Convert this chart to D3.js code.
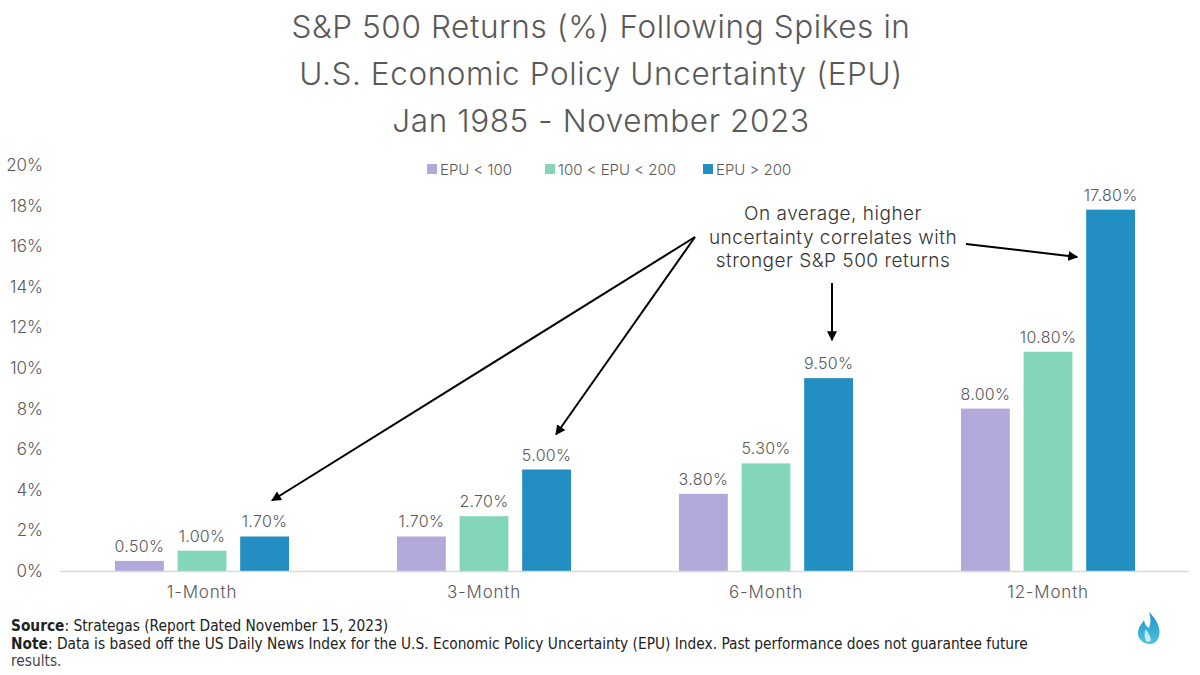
<!DOCTYPE html>
<html><head><meta charset="utf-8">
<script src="https://cdn.jsdelivr.net/npm/d3@7"></script>
<style>
html,body{margin:0;padding:0;background:#fff;}
svg{display:block;}
</style></head>
<body>
<svg id="chart" width="1200" height="675"></svg>
<script>
const titleLines = ["S&P 500 Returns (%) Following Spikes in", "U.S. Economic Policy Uncertainty (EPU)", "Jan 1985 - November 2023"];
const categories = ["1-Month", "3-Month", "6-Month", "12-Month"];
const seriesNames = ["EPU < 100", "100 < EPU < 200", "EPU > 200"];
const seriesColors = ["#b3a8da", "#84d6ba", "#228ec2"];
const epuLow = [0.5, 1.7, 3.8, 8.0];
const epuMid = [1.0, 2.7, 5.3, 10.8];
const epuHigh = [1.7, 5.0, 9.5, 17.8];
const yTicks = [0, 2, 4, 6, 8, 10, 12, 14, 16, 18, 20];
const annotationLines = ["On average, higher", "uncertainty correlates with", "stronger S&P 500 returns"];
const sourceText = "Source";
const sourceRest = ": Strategas (Report Dated November 15, 2023)";
const noteText = "Note";
const noteRest = ": Data is based off the US Daily News Index for the U.S. Economic Policy Uncertainty (EPU) Index. Past performance does not guarantee future";
const noteRest2 = "results.";

const series = [epuLow, epuMid, epuHigh];
const svg = d3.select("#chart");
const font = "Inter, 'Open Sans', sans-serif";
const grey = "#595959";

const y = d3.scaleLinear().domain([0, 20]).range([571, 165]);
const x0 = d3.scaleBand().domain(categories).range([61, 1189]);
const x1 = d3.scaleBand().domain(d3.range(3)).range([-87, 87]).paddingInner(0.22).paddingOuter(0);

// Title
svg.append("g").selectAll("text").data(titleLines).join("text")
  .attr("x", 601).attr("y", (d, i) => 38 + i * 47)
  .attr("text-anchor", "middle")
  .attr("font-family", font).attr("font-weight", 300)
  .attr("font-size", 31.5).attr("letter-spacing", 0.6).attr("fill", grey)
  .text(d => d);

// Y axis labels
svg.append("g").selectAll("text").data(yTicks).join("text")
  .attr("x", 43).attr("y", d => y(d) + 6)
  .attr("text-anchor", "end")
  .attr("font-family", font).attr("font-weight", 300)
  .attr("font-size", 17).attr("fill", grey)
  .text(d => d + "%");

// Legend
const legendX = [427, 545, 703];
const lg = svg.append("g").selectAll("g").data(seriesNames).join("g")
  .attr("transform", (d, i) => `translate(${legendX[i]},169)`);
lg.append("rect").attr("x", 0).attr("y", -5).attr("width", 10).attr("height", 10)
  .attr("fill", (d, i) => seriesColors[i]);
lg.append("text").attr("x", 13).attr("y", 5.5)
  .attr("font-family", font).attr("font-weight", 300)
  .attr("font-size", 15).attr("fill", grey).text(d => d);

// Bars
const groups = svg.append("g").selectAll("g").data(categories).join("g")
  .attr("transform", d => `translate(${x0(d) + x0.bandwidth() / 2},0)`);
groups.each(function (cat, ci) {
  const g = d3.select(this);
  const vals = series.map((s, si) => ({ si, v: s[ci] }));
  g.selectAll("rect").data(vals).join("rect")
    .attr("x", d => x1(d.si)).attr("width", x1.bandwidth())
    .attr("y", d => y(d.v)).attr("height", d => y(0) - y(d.v))
    .attr("fill", d => seriesColors[d.si]);
  g.selectAll("text.lbl").data(vals).join("text").attr("class", "lbl")
    .attr("x", d => x1(d.si) + x1.bandwidth() / 2).attr("y", d => y(d.v) - 9)
    .attr("text-anchor", "middle")
    .attr("font-family", font).attr("font-weight", 300)
    .attr("font-size", 16).attr("letter-spacing", 0.3).attr("fill", grey)
    .text(d => d.v.toFixed(2) + "%");
});

// X axis line
svg.append("line").attr("x1", 60).attr("x2", 1189).attr("y1", y(0) + 0.5).attr("y2", y(0) + 0.5)
  .attr("stroke", "#d9d9d9").attr("stroke-width", 1.5);

// X labels
svg.append("g").selectAll("text").data(categories).join("text")
  .attr("x", d => x0(d) + x0.bandwidth() / 2).attr("y", 598)
  .attr("text-anchor", "middle")
  .attr("font-family", font).attr("font-weight", 300)
  .attr("font-size", 17).attr("letter-spacing", 0.8).attr("fill", grey)
  .text(d => d);

// Annotation
svg.append("g").selectAll("text").data(annotationLines).join("text")
  .attr("x", 833).attr("y", (d, i) => 220 + i * 23.5)
  .attr("text-anchor", "middle")
  .attr("font-family", font).attr("font-weight", 300)
  .attr("font-size", 19).attr("letter-spacing", 0.5).attr("fill", "#333")
  .text(d => d);

// Arrows
const defs = svg.append("defs");
defs.append("marker").attr("id", "ah").attr("viewBox", "0 0 10 10")
  .attr("refX", 9).attr("refY", 5).attr("markerWidth", 5).attr("markerHeight", 5)
  .attr("orient", "auto").attr("markerUnits", "strokeWidth")
  .append("path").attr("d", "M0,0 L10,5 L0,10 z").attr("fill", "#000");
const apex = [695, 237];
const arrows = [
  [apex, [272, y(epuHigh[0]) - 36]],
  [apex, [556, y(epuHigh[1]) - 35]],
  [[832, 283], [832, y(epuHigh[2]) - 38]],
  [[966, 244], [x0(categories[3]) + x0.bandwidth() / 2 + x1(2) - 9, 257]]
];
svg.append("g").selectAll("line").data(arrows).join("line")
  .attr("x1", d => d[0][0]).attr("y1", d => d[0][1])
  .attr("x2", d => d[1][0]).attr("y2", d => d[1][1])
  .attr("stroke", "#000").attr("stroke-width", 2)
  .attr("marker-end", "url(#ah)");

// Footer
const foot = "'Liberation Sans Narrow', 'DejaVu Sans Condensed', 'Roboto Condensed', sans-serif";
const f1 = svg.append("text").attr("x", 11).attr("y", 631)
  .attr("font-family", foot).attr("font-size", 15.3).attr("fill", "#222");
f1.append("tspan").attr("font-weight", 700).text(sourceText);
f1.append("tspan").text(sourceRest);
const f2 = svg.append("text").attr("x", 11).attr("y", 649)
  .attr("font-family", foot).attr("font-size", 15.3).attr("fill", "#222");
f2.append("tspan").attr("font-weight", 700).text(noteText);
f2.append("tspan").text(noteRest);
svg.append("text").attr("x", 11).attr("y", 666)
  .attr("font-family", foot).attr("font-size", 15.3).attr("fill", "#444").text(noteRest2);

// Logo flame
const grad = defs.append("linearGradient").attr("id", "fg").attr("x1", 0).attr("y1", 0).attr("x2", 0).attr("y2", 1);
grad.append("stop").attr("offset", "0%").attr("stop-color", "#1e8fd0");
grad.append("stop").attr("offset", "100%").attr("stop-color", "#4cc3d9");
const logo = svg.append("g").attr("transform", "translate(1147,612)");
logo.append("path")
  .attr("d", "M2,0 C10,8 14,16 12,24 C11,29 7,32 3,32 C-4,32 -9,27 -9,21 C-9,15 -5,12 -3,8 C-2,13 0,15 2,16 C4,11 4,6 2,0 Z")
  .attr("fill", "url(#fg)");
logo.append("path")
  .attr("d", "M0,30 C-3,26 -3,21 -1,17 C1,21 4,24 4,29 Z")
  .attr("fill", "#fff").attr("opacity", 0.7);
</script>
</body></html>
